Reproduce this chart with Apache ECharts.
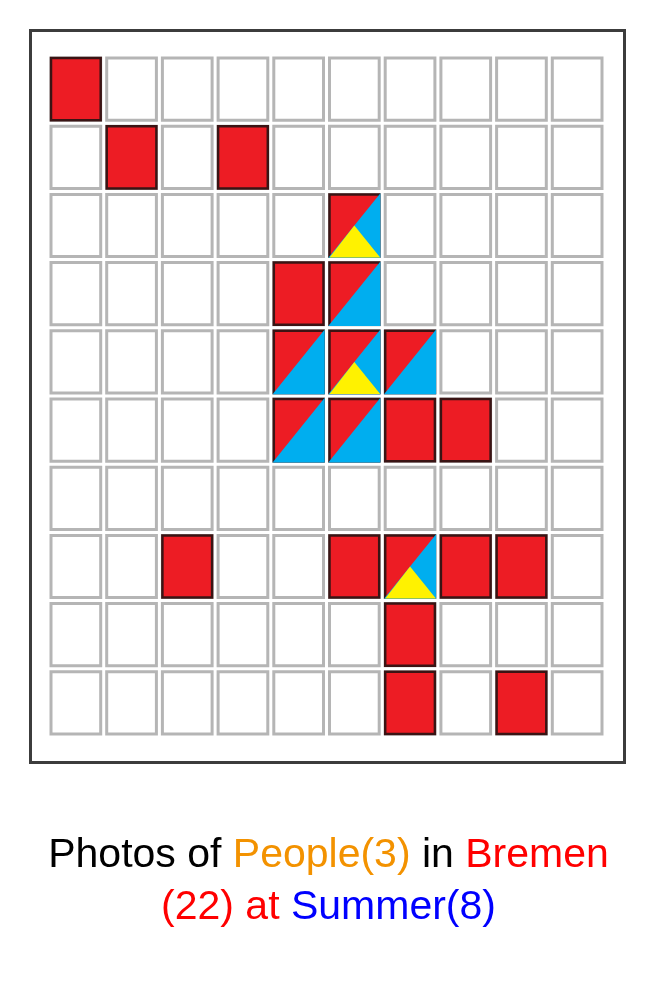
<!DOCTYPE html>
<html>
<head>
<meta charset="utf-8">
<script src="https://cdn.jsdelivr.net/npm/echarts@6/dist/echarts.min.js"></script>
<style>
html,body{margin:0;padding:0;background:#fff;}
#chart{width:657px;height:991px;}
</style>
</head>
<body>
<div id="chart"></div>
<script>
// Grid categories (columns left->right, rows top->bottom)
const colCats = ['0','1','2','3','4','5','6','7','8','9'];
const rowCats = ['0','1','2','3','4','5','6','7','8','9'];

// Marked cells as [row, col]
const redCells = [[0,0],[1,1],[1,3],[2,5],[3,4],[3,5],[4,4],[4,5],[4,6],[5,4],[5,5],[5,6],[5,7],[7,2],[7,5],[7,6],[7,7],[7,8],[8,6],[9,6],[9,8]];
const blueCells = [[2,5],[3,5],[4,4],[4,5],[4,6],[5,4],[5,5],[7,6]];
const yellowCells = [[2,5],[4,5],[7,6]];

// Title pieces
const titleParts = {
  people: 'People(3)',
  place: 'Bremen',
  placeCount: '(22)',
  season: 'Summer(8)'
};

const allCells = [];
rowCats.forEach((r, ri) => colCats.forEach((c, ci) => allCells.push([ci, ri])));
const toXY = arr => arr.map(d => [d[1], d[0]]);

function box(api) {
  const c = api.coord([api.value(0), api.value(1)]);
  const s = api.size([1, 1]);
  return { x: c[0] - s[0] / 2, y: c[1] - s[1] / 2, w: s[0], h: s[1] };
}

const chart = echarts.init(document.getElementById('chart'), null, { renderer: 'canvas' });
chart.setOption({
  backgroundColor: '#ffffff',
  animation: false,
  title: {
    left: 'center',
    top: 825,
    text: '{k|Photos of }{o|' + titleParts.people + '}{k| in }{r|' + titleParts.place + '}\n{r|' + titleParts.placeCount + ' at }{b|' + titleParts.season + '}',
    textStyle: {
      fontFamily: 'Liberation Sans',
      fontSize: 41,
      lineHeight: 52,
      fontWeight: 'normal',
      align: 'center',
      rich: {
        k: { color: '#000000', fontSize: 41, lineHeight: 52, fontFamily: 'Liberation Sans' },
        o: { color: '#f39200', fontSize: 41, lineHeight: 52, fontFamily: 'Liberation Sans' },
        r: { color: '#ff0000', fontSize: 41, lineHeight: 52, fontFamily: 'Liberation Sans' },
        b: { color: '#0000ff', fontSize: 41, lineHeight: 52, fontFamily: 'Liberation Sans' }
      }
    }
  },
  graphic: [{
    type: 'rect',
    z: -10,
    shape: { x: 30.5, y: 30.5, width: 594, height: 732 },
    style: { fill: '#ffffff', stroke: '#3c3c3c', lineWidth: 3 }
  }],
  grid: { left: 48, top: 55, width: 557, height: 682 },
  xAxis: { type: 'category', data: colCats, show: false },
  yAxis: { type: 'category', data: rowCats, inverse: true, show: false },
  series: [
    {
      type: 'custom',
      data: allCells,
      renderItem: function (params, api) {
        const b = box(api);
        return { type: 'rect', shape: { x: b.x + 3, y: b.y + 3, width: b.w - 6, height: b.h - 6 },
          style: { fill: '#ffffff', stroke: '#b5b5b5', lineWidth: 3 } };
      }
    },
    {
      type: 'custom',
      data: toXY(redCells),
      renderItem: function (params, api) {
        const b = box(api);
        return { type: 'rect', shape: { x: b.x + 3, y: b.y + 3, width: b.w - 6, height: b.h - 6 },
          style: { fill: '#ed1c24', stroke: '#3a1414', lineWidth: 2.5 } };
      }
    },
    {
      type: 'custom',
      data: toXY(blueCells),
      renderItem: function (params, api) {
        const b = box(api);
        const x0 = b.x + 1.8, x1 = b.x + b.w - 1.8, y0 = b.y + 1.8, y1 = b.y + b.h - 1.8;
        return { type: 'polygon', shape: { points: [[x1, y0], [x1, y1], [x0, y1]] },
          style: { fill: '#00aeef' } };
      }
    },
    {
      type: 'custom',
      data: toXY(yellowCells),
      renderItem: function (params, api) {
        const b = box(api);
        const x0 = b.x + 3, x1 = b.x + b.w - 2, y1 = b.y + b.h - 2;
        const cx = b.x + b.w / 2, cy = b.y + b.h / 2;
        return { type: 'polygon', shape: { points: [[x0, y1], [x1, y1], [cx, cy]] },
          style: { fill: '#fff200' } };
      }
    }
  ]
});
</script>
</body>
</html>
